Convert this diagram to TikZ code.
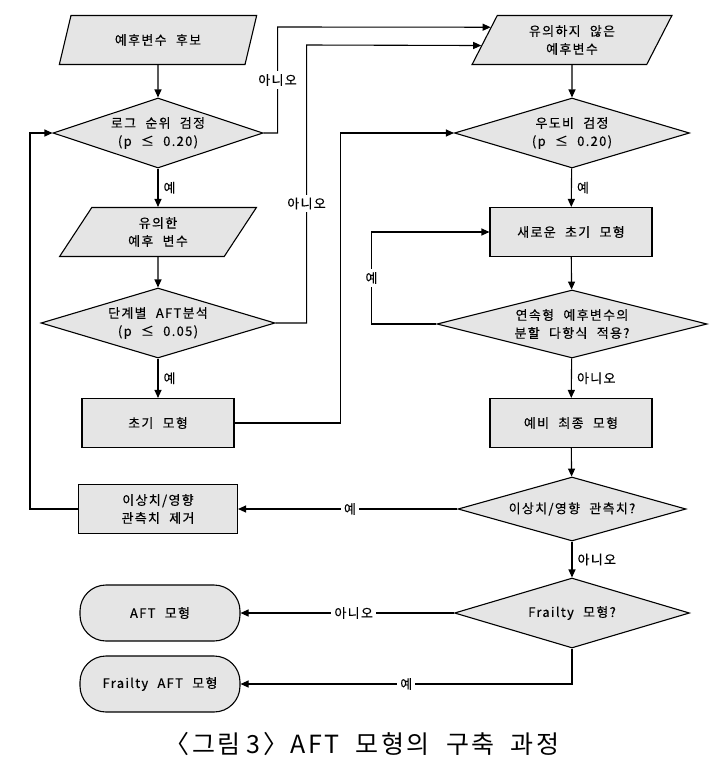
\documentclass[tikz,border=0pt]{standalone}
\usepackage{fontspec}
\setmainfont{Noto Sans CJK KR}[LetterSpace=10,WordSpace=2.2,FakeBold=0.3]
\newfontfamily\capfont{Noto Sans CJK KR}[LetterSpace=10,WordSpace=2]
\usetikzlibrary{shapes.geometric,arrows.meta,calc}
\definecolor{boxgray}{RGB}{229,229,229}
\newcommand{\boxfont}{\fontsize{13pt}{18pt}\selectfont}
\tikzset{
  base/.style={draw=black, line width=1.1pt, fill=boxgray, font=\boxfont,
    align=center, inner sep=0pt},
  procbox/.style={base, rectangle, minimum width=152pt, minimum height=49pt},
  iobox/.style={base, trapezium, trapezium left angle=64,
    trapezium right angle=116, trapezium stretches=true,
    minimum width=198pt, minimum height=49pt},
  decision/.style={base, diamond, aspect=3.3, minimum height=70pt},
  terminal/.style={base, rectangle, rounded corners=26pt,
    minimum width=160pt, minimum height=56pt},
  flow/.style={line width=1.1pt, -{Triangle[length=8pt,width=7pt]}},
  lbl/.style={fill=white, inner sep=3pt, font=\boxfont},
  side/.style={right, inner sep=5pt, font=\boxfont}
}
\begin{document}
\begin{tikzpicture}[x=1pt,y=-1pt]
\useasboundingbox (0,0) rectangle (717,769);

% left column
\node[iobox] (cand) at (158,40) {예후변수 후보};
\node[decision, minimum width=210pt] (logrank) at (158,133) {로그 순위 검정\\(p ≤ 0.20)};
\node[iobox] (signif) at (158,232) {유의한\\예후 변수};
\node[decision, minimum width=234pt] (stepaft) at (158,323) {단계별 AFT분석\\(p ≤ 0.05)};
\node[procbox] (init) at (158,423) {초기 모형};
\node[procbox, minimum width=159pt] (remove) at (158,509) {이상치/영향\\관측치 제거};
\node[terminal] (aft) at (160,613) {AFT 모형};
\node[terminal] (frailaft) at (160,684) {Frailty AFT 모형};

% right column
\node[iobox, minimum width=200pt] (nonsig) at (572,40) {유의하지 않은\\예후변수};
\node[decision, minimum width=235pt] (lrt) at (572,133) {우도비 검정\\(p ≤ 0.20)};
\node[procbox, minimum width=162pt] (newinit) at (571,232) {새로운 초기 모형};
\node[decision, minimum width=270pt, minimum height=68pt] (spline) at (572,324) {연속형 예후변수의\\분할 다항식 적용?};
\node[procbox, minimum width=162pt] (prefinal) at (571,423) {예비 최종 모형};
\node[decision, minimum width=228pt, minimum height=64pt] (outlier) at (572,509) {이상치/영향 관측치?};
\node[decision, minimum width=235pt] (frailty) at (572,613) {Frailty 모형?};

% entry points on the slanted edge of the right input box
\coordinate (nsin1) at ($(nonsig.bottom left corner)!0.755!(nonsig.top left corner)$);
\coordinate (nsin2) at ($(nonsig.bottom left corner)!0.39!(nonsig.top left corner)$);

% main flow, left column
\draw[flow] (cand) -- (logrank);
\draw[flow] (logrank) -- node[side]{예} (signif);
\draw[flow] (signif) -- (stepaft);
\draw[flow] (stepaft) -- node[side]{예} (init);

% branches into the right column
\draw[flow] (logrank.east) -- ++(14,0) -- node[lbl]{아니오} ++(0,-106) -- (nsin1);
\draw[flow] (stepaft.east) -- ++(31,0) -- node[lbl,pos=0.43]{아니오} ++(0,-278) -- (nsin2);
\draw[flow] (init.east) -- ++(106,0) |- (lrt.west);

% main flow, right column
\draw[flow] (nonsig) -- (lrt);
\draw[flow] (lrt) -- node[side]{예} (newinit);
\draw[flow] (newinit) -- (spline);
\draw[flow] (spline.west) -- ++(-65,0) -- node[lbl]{예} ++(0,-92) -- (newinit.west);
\draw[flow] (spline) -- node[side]{아니오} (prefinal);
\draw[flow] (prefinal) -- (outlier);
\draw[flow] (outlier.west) -- node[lbl,pos=0.49]{예} (remove.east);
\draw[flow] (remove.west) -- ++(-48,0) |- (logrank.west);
\draw[flow] (outlier) -- node[side]{아니오} (frailty);
\draw[flow] (frailty.west) -- node[lbl,pos=0.47]{아니오} (aft.east);
\draw[flow] (frailty.south) |- node[lbl,pos=0.75]{예} (frailaft.east);

% caption
\node[font=\capfont\fontsize{25pt}{28pt}\selectfont] (caption) at (362,744) {〈그림\hspace{6pt}3〉AFT 모형의 구축 과정};
\end{tikzpicture}
\end{document}
